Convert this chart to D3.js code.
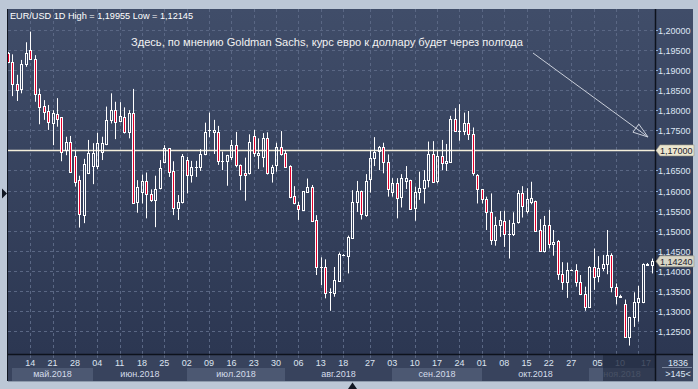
<!DOCTYPE html>
<html><head><meta charset="utf-8">
<script src="https://cdn.jsdelivr.net/npm/d3@7"></script>
<style>html,body{margin:0;padding:0;background:#bcc7d6;}svg{display:block;}</style>
</head><body><svg id="c" width="698" height="389"></svg>
<script>
// ---- DATA (daily EUR/USD candles, first one is partly cut off at the left edge) ----
const opens = [1.1942,1.1921,1.1864,1.1852,1.1914,1.1950,1.1927,1.1840,1.1810,1.1798,1.1767,
1.1790,1.1782,1.1701,1.1720,1.1687,1.1626,1.1539,1.1643,1.1661,1.1662,
1.1697,1.1715,1.1776,1.1800,1.1772,1.1784,1.1745,1.1792,1.1571,1.1596,
1.1623,1.1591,1.1576,1.1606,1.1670,1.1705,1.1649,1.1556,1.1571,1.1676,
1.1640,1.1658,1.1658,1.1691,1.1750,1.1745,1.1745,1.1673,1.1673,1.1683,
1.1713,1.1663,1.1643,1.1643,1.1736,1.1688,1.1684,1.1730,1.1643,1.1663,
1.1708,1.1693,1.1661,1.1587,1.1564,1.1552,1.1597,1.1610,1.1528,1.1409,
1.1409,1.1347,1.1346,1.1376,1.1441,1.1438,1.1483,1.1571,1.1599,1.1539,
1.1628,1.1680,1.1698,1.1708,1.1671,1.1597,1.1618,1.1583,1.1625,1.1626,
1.1556,1.1596,1.1606,1.1626,1.1691,1.1625,1.1686,1.1668,1.1671,1.1777,
1.1749,1.1749,1.1767,1.1740,1.1640,1.1603,1.1578,1.1546,1.1477,1.1514,
1.1524,1.1491,1.1491,1.1521,1.1593,1.1549,1.1572,1.1574,1.1502,1.1450,
1.1514,1.1466,1.1475,1.1392,1.1373,1.1402,1.1402,1.1373,1.1344,1.1311,
1.1410,1.1388,1.1407,1.1417,1.1441,1.1359,1.1335,1.1318,1.1235,1.1285,
1.1322,1.1322,1.1415,1.1416];
const highs = [1.1945,1.1939,1.1888,1.1925,1.1969,1.19955,1.1937,1.1854,1.1825,1.1813,1.1800,
1.1830,1.1783,1.1734,1.1736,1.1699,1.1637,1.1679,1.1726,1.1718,1.1744,
1.1734,1.1809,1.1842,1.1821,1.1820,1.1807,1.1800,1.1853,1.1626,1.1640,
1.1645,1.1603,1.1637,1.1676,1.1713,1.1706,1.1673,1.1589,1.1691,1.1684,
1.1674,1.1674,1.1703,1.1769,1.1794,1.1776,1.1761,1.1697,1.1689,1.1726,
1.1746,1.1665,1.1682,1.1740,1.1751,1.1730,1.1743,1.1745,1.1664,1.1719,
1.1748,1.1701,1.1663,1.1611,1.1572,1.1599,1.1630,1.1614,1.1539,1.1434,
1.1429,1.1357,1.1410,1.1446,1.1442,1.1488,1.1601,1.1624,1.1600,1.1641,
1.1701,1.1733,1.1711,1.1719,1.1690,1.1631,1.1631,1.1641,1.1661,1.1627,
1.1610,1.1647,1.1651,1.1722,1.1723,1.1699,1.1726,1.1716,1.1786,1.1805,
1.1815,1.1794,1.1798,1.1757,1.1641,1.1604,1.1585,1.1593,1.1535,1.1549,
1.1550,1.1527,1.1546,1.1601,1.1611,1.1606,1.1622,1.1575,1.1529,1.1537,
1.1552,1.1502,1.1477,1.1422,1.1421,1.1404,1.1417,1.1390,1.1361,1.1412,
1.1456,1.1437,1.1440,1.1502,1.1444,1.1369,1.1341,1.1329,1.1286,1.1347,
1.1363,1.1419,1.1420,1.1431];
const lows = [1.1917,1.1835,1.1823,1.1842,1.1908,1.1925,1.1821,1.1765,1.1776,1.1751,1.1713,
1.1759,1.1673,1.1688,1.1644,1.1610,1.1508,1.1519,1.1641,1.1616,1.1653,
1.1676,1.1713,1.1767,1.1728,1.1770,1.1742,1.1730,1.1568,1.1545,1.1568,
1.1531,1.1572,1.1509,1.1603,1.1668,1.1634,1.1539,1.1527,1.1568,1.1593,
1.1620,1.1634,1.1649,1.1688,1.1733,1.1691,1.1664,1.1651,1.1612,1.1676,
1.1658,1.1601,1.1575,1.1640,1.1684,1.1654,1.1658,1.1640,1.1620,1.1647,
1.1687,1.1657,1.1581,1.1566,1.1527,1.1551,1.1596,1.1522,1.1390,1.1365,
1.1332,1.1301,1.1336,1.1373,1.1441,1.1394,1.1482,1.1547,1.1528,1.1535,
1.1595,1.1661,1.1651,1.1643,1.1585,1.1585,1.1531,1.1558,1.1604,1.1552,
1.1525,1.1577,1.1568,1.1608,1.1620,1.1618,1.1651,1.1649,1.1669,1.1746,
1.1724,1.1738,1.1726,1.1637,1.1568,1.1568,1.1502,1.1465,1.1463,1.1485,
1.1460,1.1431,1.1487,1.1518,1.1533,1.1543,1.1566,1.1498,1.1448,1.1446,
1.1456,1.1438,1.1378,1.1353,1.1333,1.1401,1.1361,1.1340,1.1301,1.1310,
1.1353,1.1372,1.1400,1.1392,1.1347,1.1317,1.1334,1.1234,1.12145,1.1261,
1.1274,1.1320,1.1414,1.1394];
const closes = [1.1919,1.1864,1.1850,1.1914,1.1942,1.1927,1.1840,1.1807,1.1796,1.1770,1.1792,
1.1777,1.1697,1.1720,1.1647,1.1622,1.1541,1.1666,1.1693,1.1693,1.1718,
1.1718,1.1776,1.1800,1.1770,1.1785,1.1745,1.1792,1.1570,1.1610,1.1623,
1.1591,1.1576,1.1603,1.1657,1.1707,1.1647,1.1556,1.1571,1.1686,1.1640,
1.1658,1.1658,1.1691,1.1745,1.1750,1.1751,1.1673,1.1673,1.1688,1.1713,
1.1663,1.1640,1.1640,1.1721,1.1693,1.1693,1.1730,1.1643,1.1658,1.1708,
1.1691,1.1658,1.1583,1.1568,1.1554,1.1599,1.1609,1.1525,1.1410,1.1409,
1.1346,1.1347,1.1378,1.1442,1.1441,1.1485,1.1571,1.1599,1.1541,1.1624,
1.1680,1.1696,1.1708,1.1671,1.1603,1.1618,1.1581,1.1631,1.1631,1.1553,
1.1596,1.1606,1.1626,1.1691,1.1621,1.1686,1.1668,1.1673,1.1777,1.1749,
1.1749,1.1767,1.1740,1.1643,1.1603,1.1578,1.1546,1.1477,1.1514,1.1527,
1.1491,1.1491,1.1519,1.1593,1.1562,1.1578,1.1581,1.1499,1.1450,1.1514,
1.1466,1.1471,1.1392,1.1373,1.1402,1.1402,1.1373,1.1344,1.1311,1.1410,
1.1386,1.1407,1.1417,1.1441,1.1359,1.1338,1.1339,1.1235,1.1285,1.1322,
1.1332,1.1417,1.1418,1.1424];

const priceTicks = [1.125,1.13,1.135,1.14,1.145,1.15,1.155,1.16,1.165,1.17,1.175,1.18,1.185,1.19,1.195,1.2];
const dayLabels = ["14","21","28","04","11","18","25","02","09","16","23","30","06","13","18","27","03","10","17","24","01","08","15","22","27","05","10","17"];
const dayLabelAt = [5,10,15,20,25,30,35,40,45,50,55,60,65,70,75,81,86,91,96,101,106,111,116,121,126,131.9,136.9,142.7];
const gridAt = [5,10,15,20,25,30,35,40,45,50,55,60,65,70,75,81,86,91,96,101,106,111,116,121,126,131,136,141];
const monthLabels = ["май.2018","июн.2018","июл.2018","авг.2018","сен.2018","окт.2018","ноя.2018"];
const monthStartAt = [1,19,40,62,86,106,130];
const levelPrice = 1.17;
const lastPrice = 1.1424;
const headerText = "EUR/USD 1D High = 1,19955 Low = 1,12145";
const noteText = "Здесь, по мнению Goldman Sachs, курс евро к доллару будет через полгода";
const cornerTop = "1836", cornerBottom = ">145<";

// ---- DRAWING ----
const svg = d3.select("#c");
const FONT = "'Liberation Sans', Arial, sans-serif";
const P = {l:8, t:9, r:655, b:354, R:693, B:381};
const x = d3.scaleLinear().domain([0, 144]).range([7.83, 651.7]);
const y = d3.scaleLinear().domain([1.125, 1.2]).range([331.3, 29.8]);
const fmt = v => d3.format(".5f")(v).replace(".", ",");

const defs = svg.append("defs");
const g1 = defs.append("linearGradient").attr("id","bg").attr("x1",0).attr("y1",0).attr("x2",0).attr("y2",1);
g1.append("stop").attr("offset","0%").attr("stop-color","#404d69");
g1.append("stop").attr("offset","100%").attr("stop-color","#2c3752");
defs.append("clipPath").attr("id","clip").append("rect")
  .attr("x",P.l).attr("y",P.t).attr("width",P.r-P.l).attr("height",P.b-P.t);

svg.append("rect").attr("width",698).attr("height",389).attr("fill","#bcc7d6");
svg.append("rect").attr("x",P.l).attr("y",P.t).attr("width",P.R-P.l).attr("height",P.b-P.t).attr("fill","url(#bg)");

// bottom axis bar
svg.append("rect").attr("x",P.l).attr("y",P.b).attr("width",P.R-P.l).attr("height",P.B-P.b).attr("fill","#38435d");
const mEdges = monthStartAt.map(k => Math.round(x(k)));
mEdges.push(P.r);
monthLabels.forEach((m,i) => {
  const x0 = mEdges[i], x1 = mEdges[i+1];
  if (i % 2 === 0) svg.append("rect").attr("x",x0).attr("y",368).attr("width",x1-x0).attr("height",P.B-368).attr("fill","#4c5872");
  svg.append("text").attr("x",(x0+x1)/2).attr("y",376.5).attr("text-anchor","middle")
    .attr("font-family",FONT).attr("font-size",9).attr("fill",i===6?"#7d879c":"#d4dcea").text(m);
});
dayLabels.forEach((d,i) => {
  svg.append("text").attr("x",x(dayLabelAt[i])).attr("y",366).attr("text-anchor","middle")
    .attr("font-family",FONT).attr("font-size",9).attr("fill",dayLabelAt[i]>133?"#7d879c":"#dde4f0").text(d);
});
// darker shade over the last part of the time axis
svg.append("rect").attr("x",Math.round(x(133.2))).attr("y",P.b).attr("width",P.r-Math.round(x(133.2))).attr("height",P.B-P.b)
  .attr("fill","#1c2438").attr("opacity",0.55);

// grid
const plot = svg.append("g").attr("clip-path","url(#clip)");
plot.selectAll(".hg").data(priceTicks).join("line")
  .attr("x1",P.l).attr("x2",P.r).attr("y1",d=>Math.round(y(d))+0.5).attr("y2",d=>Math.round(y(d))+0.5)
  .attr("stroke","#5a6784").attr("stroke-dasharray","3,3");
plot.selectAll(".vg").data(gridAt).join("line")
  .attr("y1",P.t).attr("y2",P.b).attr("x1",d=>Math.round(x(d))+0.5).attr("x2",d=>Math.round(x(d))+0.5)
  .attr("stroke","#5a6784").attr("stroke-dasharray","3,3");
svg.selectAll(".vt").data(gridAt.filter(d=>d<133)).join("line")
  .attr("y1",P.b+1).attr("y2",P.b+4).attr("x1",d=>Math.round(x(d))+0.5).attr("x2",d=>Math.round(x(d))+0.5)
  .attr("stroke","#5a6784");

// level line
plot.append("line").attr("x1",P.l).attr("x2",P.r).attr("y1",Math.round(y(levelPrice))+0.5).attr("y2",Math.round(y(levelPrice))+0.5)
  .attr("stroke","#f3eedb").attr("stroke-width",1.3);

// candles
const idx = d3.range(opens.length);
const cg = plot.append("g");
idx.forEach(k => {
  const o = opens[k], c = closes[k], h = highs[k], l = lows[k];
  const cx = Math.round(x(k)) + 0.5;
  const top = Math.round(y(Math.max(o,c))), bot = Math.round(y(Math.min(o,c)));
  const yh = y(h), yl = y(l);
  if (yh < top) cg.append("line").attr("x1",cx).attr("x2",cx).attr("y1",yh).attr("y2",top).attr("stroke","#ffffff");
  if (yl > bot+1) cg.append("line").attr("x1",cx).attr("x2",cx).attr("y1",bot+1).attr("y2",yl).attr("stroke","#ffffff");
  if (bot - top < 1) {
    cg.append("line").attr("x1",cx-1.5).attr("x2",cx+1.5).attr("y1",top+0.5).attr("y2",top+0.5).attr("stroke","#ffffff");
  } else {
    cg.append("rect").attr("x",cx-1).attr("y",top+0.5).attr("width",2).attr("height",bot-top)
      .attr("fill", c < o ? "#e4002b" : "none").attr("stroke","#ffffff").attr("stroke-width",1);
  }
});

// borders
svg.append("line").attr("x1",7.5).attr("x2",7.5).attr("y1",P.t).attr("y2",P.B).attr("stroke","#111722");
svg.append("line").attr("x1",P.l).attr("x2",P.R).attr("y1",P.b+0.5).attr("y2",P.b+0.5).attr("stroke","#0d121c").attr("stroke-width",1.5);
svg.append("line").attr("x1",P.r+0.5).attr("x2",P.r+0.5).attr("y1",P.t).attr("y2",P.B).attr("stroke","#0d121c").attr("stroke-width",1.5);
svg.append("line").attr("x1",P.l).attr("x2",P.R).attr("y1",P.B+0.5).attr("y2",P.B+0.5).attr("stroke","#8e9aac");

// price axis
priceTicks.forEach(p => {
  const yy = Math.round(y(p)) + 0.5;
  svg.append("line").attr("x1",P.r+1).attr("x2",P.r+3).attr("y1",yy).attr("y2",yy).attr("stroke","#8fb0de");
  if (Math.abs(p-levelPrice) > 1e-9)
    svg.append("text").attr("x",658).attr("y",yy+3.2).attr("font-family",FONT).attr("font-size",9).attr("fill","#dfe7f5").text(fmt(p));
});
function tag(p, fill, label) {
  const yc = y(p);
  svg.append("path").attr("d",`M656,${yc} L660,${yc-5.5} L694,${yc-5.5} L694,${yc+5.5} L660,${yc+5.5} Z`)
    .attr("fill",fill).attr("stroke","#9a9684").attr("stroke-width",0.6);
  svg.append("text").attr("x",660).attr("y",yc+3.2).attr("font-family",FONT).attr("font-size",9).attr("fill","#1d2230").text(label);
}
tag(levelPrice, "#ebe6cf", fmt(levelPrice));
tag(lastPrice, "#d9d6c6", fmt(lastPrice));

// corner cell
svg.append("text").attr("x",678).attr("y",365.5).attr("text-anchor","middle").attr("font-family",FONT).attr("font-size",9).attr("fill","#dfe7f5").text(cornerTop);
svg.append("line").attr("x1",662).attr("x2",692).attr("y1",367.5).attr("y2",367.5).attr("stroke","#7d89a0");
svg.append("text").attr("x",678).attr("y",377).attr("text-anchor","middle").attr("font-family",FONT).attr("font-size",9).attr("fill","#dfe7f5").text(cornerBottom);

// header + annotation
svg.append("text").attr("x",10).attr("y",18.5).attr("font-family",FONT).attr("font-size",9.6)
  .attr("textLength",183).attr("lengthAdjust","spacingAndGlyphs").attr("fill","#ffffff").text(headerText);
svg.append("text").attr("x",131).attr("y",46).attr("font-family",FONT).attr("font-size",11)
  .attr("textLength",392).attr("lengthAdjust","spacingAndGlyphs").attr("fill","#f2f2f2").text(noteText);

// arrow
const ax0 = 533, ay0 = 53, ax1 = 648, ay1 = 137;
svg.append("line").attr("x1",ax0).attr("y1",ay0).attr("x2",ax1).attr("y2",ay1).attr("stroke","#c9ced9").attr("stroke-width",1);
const ang = Math.atan2(ay1-ay0, ax1-ax0), L = 15, Wd = 5;
const bx = ax1 - L*Math.cos(ang), by = ay1 - L*Math.sin(ang);
const px = -Math.sin(ang)*Wd, py = Math.cos(ang)*Wd;
svg.append("path").attr("d",`M${ax1},${ay1} L${bx+px},${by+py} L${bx-px},${by-py} Z`).attr("fill","none").attr("stroke","#c9ced9").attr("stroke-width",1);

// small markers
svg.append("path").attr("d","M2,188.5 L7,193.5 L2,198.5 Z").attr("fill","#111722");
svg.append("path").attr("d","M352.5,382.5 L357,389 L348,389 Z").attr("fill","#111722");
</script></body></html>
